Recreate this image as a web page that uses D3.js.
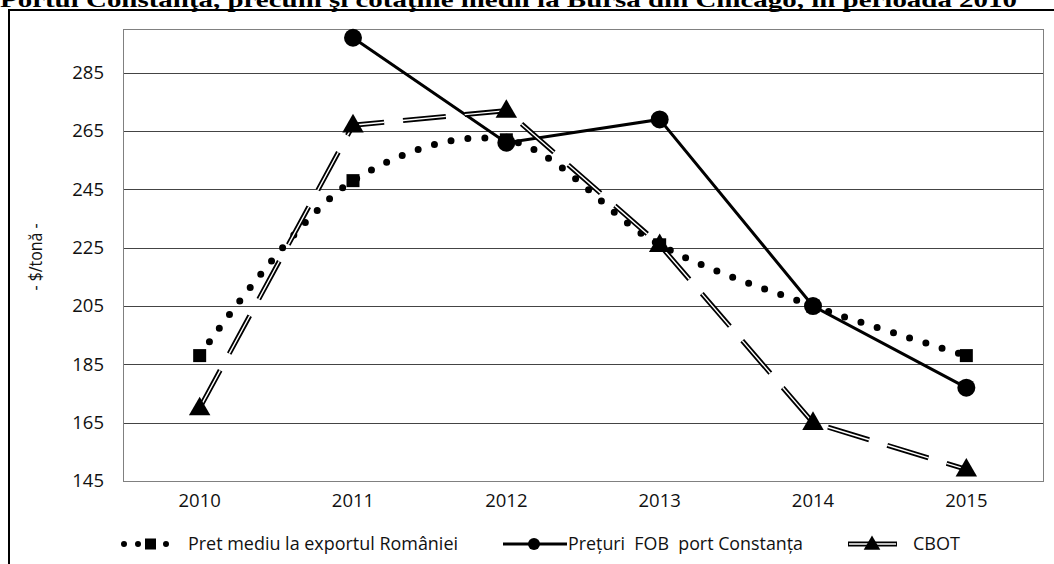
<!DOCTYPE html>
<html>
<head>
    <meta charset="utf-8">
    <title>Pret mediu / FOB Constanta / CBOT</title>
    <style>
        body { margin: 0; background: #fff; }
        text { font-family: "Open Sans", sans-serif; fill: #111; }
    </style>
</head>
<body>

    <script src="https://d3js.org/d3.v7.min.js"></script>
    <script type="text/javascript">

    // data
    var years     = ["2010", "2011", "2012", "2013", "2014", "2015"];
    var pretMediu = [188, 248, 262, 226, 205, 188];
    var pretFob   = [null, 297, 261, 269, 205, 177];
    var cbot      = [170, 267, 272, 226, 165, 149];
    var yTicks    = [145, 165, 185, 205, 225, 245, 265, 285];
    var legendNames = ["Pret mediu la exportul României", "Prețuri  FOB  port Constanța", "CBOT"];

    var width = 1054, height = 564;
    var plot = {left: 123, top: 29, right: 1043, bottom: 481};

    var x = d3.scaleBand().domain(years).range([plot.left, plot.right]);
    var y = d3.scaleLinear().domain([145, 300]).range([plot.bottom, plot.top]);
    var cx = function(yr) { return x(yr) + x.bandwidth() / 2; };

    var svg = d3.select("body")
        .append("svg")
        .attr("width", width)
        .attr("height", height);

    // title, cut off at the top like the scan
    svg.append("text")
        .attr("x", 0)
        .attr("y", 7)
        .attr("textLength", 1017)
        .attr("lengthAdjust", "spacingAndGlyphs")
        .style("font-family", "'Liberation Serif', serif")
        .style("font-weight", "bold")
        .style("font-size", "21px")
        .style("fill", "#000")
        .text("Portul Constanţa, precum şi cotaţiile medii la Bursa din Chicago, în perioada 2010");

    // outer frame
    svg.append("rect")
        .attr("x", 9).attr("y", 10)
        .attr("width", 1060).attr("height", 570)
        .style("fill", "none")
        .style("stroke", "#000")
        .style("stroke-width", 2);

    // gridlines
    svg.append("g")
        .selectAll("line")
        .data(yTicks)
        .enter().append("line")
        .attr("x1", plot.left).attr("x2", plot.right)
        .attr("y1", function(d) { return Math.round(y(d)) + 0.5; })
        .attr("y2", function(d) { return Math.round(y(d)) + 0.5; })
        .style("stroke", "#444")
        .style("stroke-width", 1);

    // plot border
    svg.append("rect")
        .attr("x", plot.left + 0.5).attr("y", plot.top + 0.5)
        .attr("width", plot.right - plot.left).attr("height", plot.bottom - plot.top)
        .style("fill", "none")
        .style("stroke", "#808080")
        .style("stroke-width", 1);

    // y axis labels
    var yAxis = svg.append("g")
        .attr("transform", "translate(" + plot.left + ",0)")
        .call(d3.axisLeft(y).tickValues(yTicks).tickSize(0).tickPadding(19));
    yAxis.select(".domain").remove();
    yAxis.selectAll("text")
        .style("font-family", "'Open Sans', sans-serif")
        .style("font-size", "18.5px")
        .style("fill", "#111");

    // x axis labels
    var xAxis = svg.append("g")
        .attr("transform", "translate(0," + plot.bottom + ")")
        .call(d3.axisBottom(x).tickSize(0).tickPadding(13));
    xAxis.select(".domain").remove();
    xAxis.selectAll("text")
        .style("font-family", "'Open Sans', sans-serif")
        .style("font-size", "18.5px")
        .style("fill", "#111");

    svg.append("text")
        .attr("transform", "translate(36,257) rotate(-90)")
        .attr("text-anchor", "middle")
        .attr("dy", "0.35em")
        .attr("textLength", 67)
        .attr("lengthAdjust", "spacingAndGlyphs")
        .style("font-size", "18px")
        .text("- $/tonă -");

    function series(vals) {
        return years.map(function(yr, i) { return {year: yr, v: vals[i]}; })
            .filter(function(d) { return d.v !== null; });
    }

    var smooth = d3.line()
        .x(function(d) { return cx(d.year); })
        .y(function(d) { return y(d.v); })
        .curve(d3.curveCatmullRom.alpha(0.5));

    var straight = d3.line()
        .x(function(d) { return cx(d.year); })
        .y(function(d) { return y(d.v); });

    var tri = d3.symbol().type(d3.symbolTriangle).size(200);
    var triSmall = d3.symbol().type(d3.symbolTriangle).size(120);

    // Pret mediu: smoothed round dots + squares
    var s1 = series(pretMediu);
    svg.append("path")
        .datum(s1)
        .attr("d", smooth)
        .style("fill", "none")
        .style("stroke", "#000")
        .style("stroke-width", 7)
        .style("stroke-linecap", "round")
        .style("stroke-dasharray", "0,17");
    svg.append("g").selectAll("rect")
        .data(s1).enter().append("rect")
        .attr("x", function(d) { return cx(d.year) - 6.5; })
        .attr("y", function(d) { return y(d.v) - 6.5; })
        .attr("width", 13).attr("height", 13)
        .style("fill", "#000");

    // FOB Constanta: solid + circles
    var s2 = series(pretFob);
    svg.append("path")
        .datum(s2)
        .attr("d", straight)
        .style("fill", "none")
        .style("stroke", "#000")
        .style("stroke-width", 3);
    svg.append("g").selectAll("circle")
        .data(s2).enter().append("circle")
        .attr("cx", function(d) { return cx(d.year); })
        .attr("cy", function(d) { return y(d.v); })
        .attr("r", 9)
        .style("fill", "#000");

    // CBOT: double long dash + triangles
    var s3 = series(cbot);
    svg.append("path")
        .datum(s3)
        .attr("d", straight)
        .style("fill", "none")
        .style("stroke", "#000")
        .style("stroke-width", 5)
        .style("stroke-dasharray", "43,19");
    svg.append("path")
        .datum(s3)
        .attr("d", straight)
        .style("fill", "none")
        .style("stroke", "#fff")
        .style("stroke-width", 1.4)
        .style("stroke-dasharray", "43,19");
    svg.append("g").selectAll("path")
        .data(s3).enter().append("path")
        .attr("d", tri)
        .attr("transform", function(d) { return "translate(" + cx(d.year) + "," + (y(d.v) + 1) + ")"; })
        .style("fill", "#000");

    // legend
    var legY = 544;
    var leg = svg.append("g");

    leg.append("line")
        .attr("x1", 124).attr("x2", 176).attr("y1", legY).attr("y2", legY)
        .style("stroke", "#000").style("stroke-width", 6)
        .style("stroke-linecap", "round").style("stroke-dasharray", "0,14");
    leg.append("rect")
        .attr("x", 145).attr("y", legY - 5.5).attr("width", 11).attr("height", 11)
        .style("fill", "#000");

    leg.append("line")
        .attr("x1", 503).attr("x2", 567).attr("y1", legY).attr("y2", legY)
        .style("stroke", "#000").style("stroke-width", 3);
    leg.append("circle")
        .attr("cx", 534).attr("cy", legY).attr("r", 6)
        .style("fill", "#000");

    leg.append("line")
        .attr("x1", 848).attr("x2", 897).attr("y1", legY).attr("y2", legY)
        .style("stroke", "#000").style("stroke-width", 5);
    leg.append("line")
        .attr("x1", 849).attr("x2", 896).attr("y1", legY).attr("y2", legY)
        .style("stroke", "#fff").style("stroke-width", 1.4);
    leg.append("path")
        .attr("d", triSmall)
        .attr("transform", "translate(872," + (legY + 1) + ")")
        .style("fill", "#000");

    var legX = [188, 568, 913];
    var legW = [270, 235, 47];
    leg.selectAll("text.lbl")
        .data(legendNames).enter().append("text")
        .attr("class", "lbl")
        .attr("x", function(d, i) { return legX[i]; })
        .attr("y", legY)
        .attr("dy", "0.35em")
        .attr("textLength", function(d, i) { return legW[i]; })
        .attr("lengthAdjust", "spacingAndGlyphs")
        .style("white-space", "pre")
        .style("font-size", "18px")
        .text(function(d) { return d; });

    </script>
</body>
</html>
